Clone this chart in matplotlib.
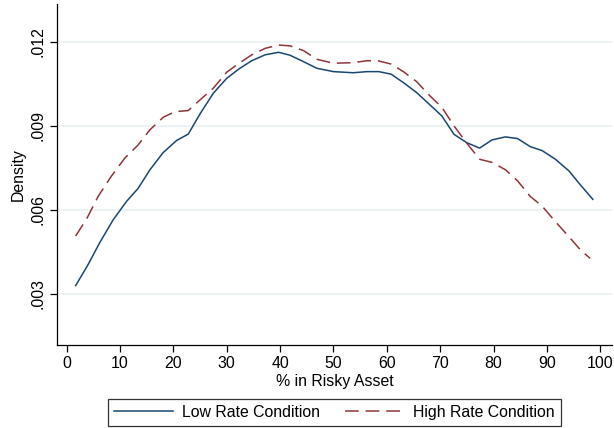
import matplotlib
matplotlib.use("Agg")
import matplotlib.pyplot as plt

plt.rcParams['font.family'] = ['Liberation Sans', 'DejaVu Sans']

# values (kernel density estimates)
low_x = [1.7, 4.0, 6.2, 8.7, 11.2, 13.4, 15.6, 18.1, 20.6, 22.8, 25.0, 27.5, 30.0,
         32.4, 34.7, 37.2, 39.7, 41.8, 43.7, 46.9, 50.0, 53.7, 56.3, 58.5, 60.8,
         63.1, 65.6, 68.1, 70.3, 72.6, 75.0, 77.4, 79.7, 82.2, 84.5, 86.9, 89.1,
         91.6, 94.1, 96.3, 98.6]
low_y = [0.00330, 0.00404, 0.00483, 0.00564, 0.00630, 0.00677, 0.00743, 0.00805,
         0.00848, 0.00871, 0.00943, 0.01017, 0.01070, 0.01105, 0.01133, 0.01154,
         0.01163, 0.01153, 0.01136, 0.01106, 0.01094, 0.01090, 0.01094, 0.01094,
         0.01085, 0.01055, 0.01019, 0.00975, 0.00936, 0.00870, 0.00840, 0.00821,
         0.00850, 0.00861, 0.00855, 0.00826, 0.00812, 0.00781, 0.00740, 0.00689,
         0.00638]

high_x = [1.7, 3.8, 5.9, 8.4, 10.9, 13.4, 15.6, 18.1, 20.3, 22.8, 25.0, 27.5, 30.0,
          32.4, 34.7, 37.2, 39.7, 41.9, 44.4, 46.9, 50.0, 53.7, 56.3, 58.5, 60.8,
          63.1, 65.6, 68.1, 70.3, 72.6, 75.0, 77.4, 79.7, 82.2, 84.5, 86.9, 89.1,
          91.6, 94.1, 96.3, 98.1]
high_y = [0.00507, 0.00570, 0.00648, 0.00721, 0.00785, 0.00832, 0.00886, 0.00931,
          0.00951, 0.00955, 0.00993, 0.01035, 0.01092, 0.01125, 0.01154, 0.01177,
          0.01189, 0.01186, 0.01169, 0.01138, 0.01124, 0.01126, 0.01133, 0.01132,
          0.01121, 0.01094, 0.01058, 0.01007, 0.00967, 0.00900, 0.00838, 0.00781,
          0.00770, 0.00744, 0.00704, 0.00648, 0.00614, 0.00558, 0.00505, 0.00457,
          0.00427]

xticks = [0, 10, 20, 30, 40, 50, 60, 70, 80, 90, 100]
yticks = [0.003, 0.006, 0.009, 0.012]
ytick_labels = [".003", ".006", ".009", ".012"]

fig = plt.figure(figsize=(6.14, 4.28), dpi=100)
ax = fig.add_axes([0.0928, 0.194, 0.904, 0.797])

for y in yticks:
    ax.axhline(y, color="#eaf2f3", lw=1.3, zorder=0)

ax.plot(low_x, low_y, color="#1a476f", lw=1.1, label="Low Rate Condition")
ax.plot(high_x, high_y, color="#90353b", lw=1.1, dashes=(9, 4.5),
        label="High Rate Condition")

ax.set_xlim(-1.8, 102.2)
ax.set_ylim(0.00118, 0.01336)
ax.set_xticks(xticks)
ax.set_yticks(yticks)
ax.set_yticklabels(ytick_labels, rotation=90, va="center")
ax.tick_params(labelsize=11.4, length=5, width=0.9, direction="out", pad=3)

for s in ["top", "right"]:
    ax.spines[s].set_visible(False)
for s in ["left", "bottom"]:
    ax.spines[s].set_linewidth(0.9)

ax.set_xlabel("% in Risky Asset", fontsize=11.4, labelpad=2)
ax.set_ylabel("Density", fontsize=11.4, labelpad=4)

leg = fig.legend(loc="center", bbox_to_anchor=(0.5448, 0.0362), ncol=2,
                 fontsize=11.4, frameon=True, fancybox=False, edgecolor="black",
                 handlelength=3.7, handletextpad=0.6, columnspacing=1.6,
                 borderpad=0.35)
leg.get_frame().set_linewidth(0.9)

fig.savefig("out.png", dpi=100)
